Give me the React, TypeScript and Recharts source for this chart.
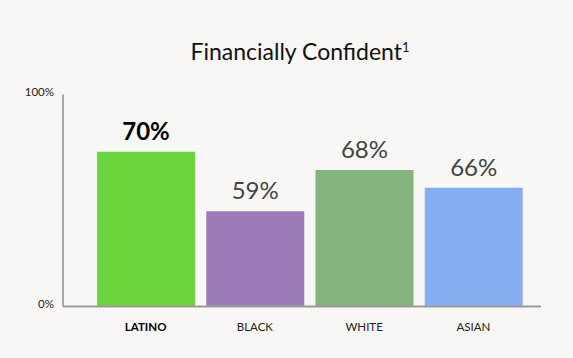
import { BarChart, Bar, XAxis, YAxis, Cell, LabelList } from "recharts";

const categories = ["LATINO", "BLACK", "WHITE", "ASIAN"];
// bar heights as drawn (share of the 0–100% axis)
const barHeights = [73, 44.9, 64.4, 56];
// printed value labels
const valueLabels = ["70%", "59%", "68%", "66%"];
const barColors = ["#6bd53b", "#9b7cb9", "#82b47b", "#85aef2"];
const yTicks = [0, 100];

const data = categories.map((c, i) => ({
  name: c,
  value: barHeights[i],
  label: valueLabels[i],
}));

const FONT = "Lato, 'Open Sans', sans-serif";

const YTick = (props: any) => {
  const { x, y, payload } = props;
  return (
    <text x={x} y={y - 3} textAnchor="end" dominantBaseline="central" fontSize={11.5} fill="#222" fontFamily={FONT}>
      {payload.value}%
    </text>
  );
};

const XTick = (props: any) => {
  const { x, y, payload, index } = props;
  const bold = index === 0;
  return (
    <text
      x={x}
      y={y + 12}
      textAnchor="middle"
      dominantBaseline="central"
      fontSize={11.5}
      fontWeight={bold ? 700 : 400}
      fill={bold ? "#000" : "#222"}
      fontFamily={FONT}
    >
      {payload.value}
    </text>
  );
};

const ValueLabel = (props: any) => {
  const { x, y, width, index } = props;
  const bold = index === 0;
  return (
    <text
      x={x + width / 2}
      y={y - 12}
      textAnchor="middle"
      fontSize={24}
      fontWeight={bold ? 700 : 400}
      fill={bold ? "#000" : "#444"}
      fontFamily={FONT}
    >
      {valueLabels[index]}
    </text>
  );
};

export default function App() {
  return (
    <div style={{ position: "absolute", left: 0, top: 0, width: 573, height: 358, background: "#f8f7f5" }}>
      <div
        style={{
          position: "absolute",
          left: 0,
          width: 600,
          top: 38,
          textAlign: "center",
          fontFamily: FONT,
          fontSize: 23,
          color: "#111",
          lineHeight: "26px",
        }}
      >
        Financially Confident<sup style={{ fontSize: 13, verticalAlign: "8px", lineHeight: 0 }}>1</sup>
      </div>
      <BarChart
        width={573}
        height={358}
        data={data}
        margin={{ top: 94.5, right: 32, bottom: 21.5, left: 0 }}
        barSize={98}
      >
        <YAxis
          width={63}
          domain={[0, 100]}
          ticks={yTicks}
          tickLine={false}
          tickSize={6}
          tickMargin={3}
          axisLine={{ stroke: "#555", strokeWidth: 1 }}
          tick={<YTick />}
        />
        <XAxis
          dataKey="name"
          height={30}
          padding={{ left: 28, right: 13 }}
          tickLine={false}
          axisLine={{ stroke: "#9a9a9a", strokeWidth: 2 }}
          tick={<XTick />}
          interval={0}
        />
        <Bar dataKey="value" isAnimationActive={false}>
          {data.map((d, i) => (
            <Cell key={d.name} fill={barColors[i]} />
          ))}
          <LabelList dataKey="label" content={<ValueLabel />} />
        </Bar>
      </BarChart>
    </div>
  );
}
